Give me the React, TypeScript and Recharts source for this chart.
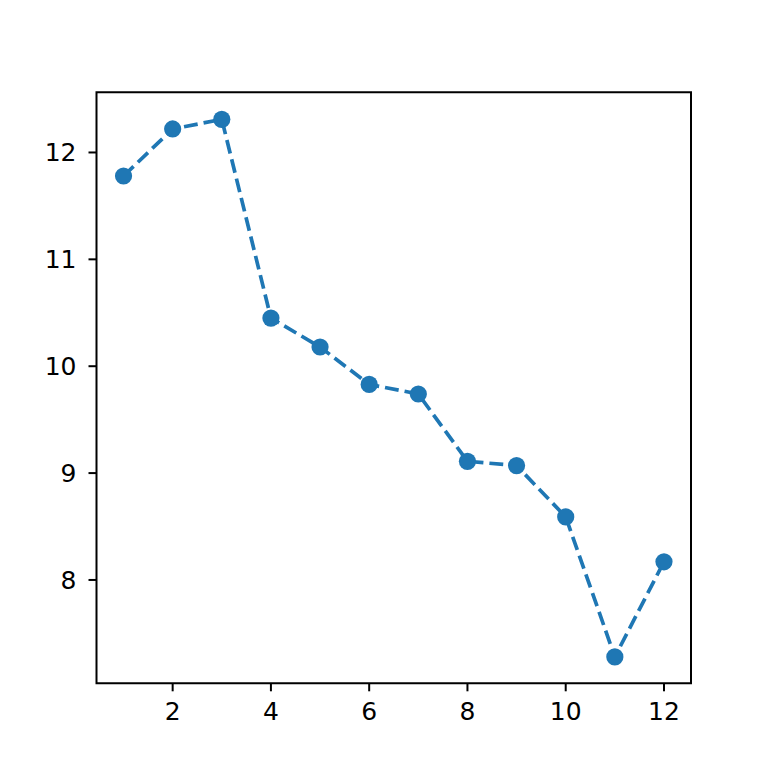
import { LineChart, Line, XAxis, YAxis, ReferenceArea } from 'recharts'

const xValues = [1, 2, 3, 4, 5, 6, 7, 8, 9, 10, 11, 12]
const yValues = [11.78, 12.22, 12.31, 10.45, 10.18, 9.83, 9.74, 9.11, 9.07, 8.59, 7.28, 8.17]
const xTicks = [2, 4, 6, 8, 10, 12]
const yTicks = [8, 9, 10, 11, 12]

const X_DOMAIN: [number, number] = [0.45, 12.55]
const Y_DOMAIN: [number, number] = [7.033, 12.563]

const data = xValues.map((x, i) => ({ x, y: yValues[i] }))

const tickStyle = { fontSize: 25, fill: '#000', fontFamily: 'DejaVu Sans' }

export default function App() {
  return (
    <div style={{ position: 'absolute', left: 0, top: 0, width: 768, height: 768, background: '#fff' }}>
      <LineChart width={768} height={768} data={data} margin={{ top: 92.3, right: 77, bottom: 0, left: 36.5 }}>
        <XAxis
          type="number"
          dataKey="x"
          domain={X_DOMAIN}
          ticks={xTicks}
          height={84.7}
          axisLine={false}
          tickLine={{ stroke: '#000', strokeWidth: 2 }}
          tickSize={8}
          tickMargin={11}
          tick={tickStyle}
          allowDataOverflow
        />
        <YAxis
          type="number"
          domain={Y_DOMAIN}
          ticks={yTicks}
          width={60}
          axisLine={false}
          tickLine={{ stroke: '#000', strokeWidth: 2 }}
          tickSize={8}
          tickMargin={12}
          tick={tickStyle}
          allowDataOverflow
        />
        <ReferenceArea
          x1={X_DOMAIN[0]}
          x2={X_DOMAIN[1]}
          y1={Y_DOMAIN[0]}
          y2={Y_DOMAIN[1]}
          fill="none"
          stroke="#000"
          strokeWidth={2}
          ifOverflow="visible"
        />
        <Line
          type="linear"
          dataKey="y"
          stroke="#1f77b4"
          strokeWidth={3.7}
          strokeDasharray="13.9 6"
          dot={{ r: 8.6, fill: '#1f77b4', stroke: 'none', strokeDasharray: '' }}
          activeDot={false}
          isAnimationActive={false}
        />
      </LineChart>
    </div>
  )
}
